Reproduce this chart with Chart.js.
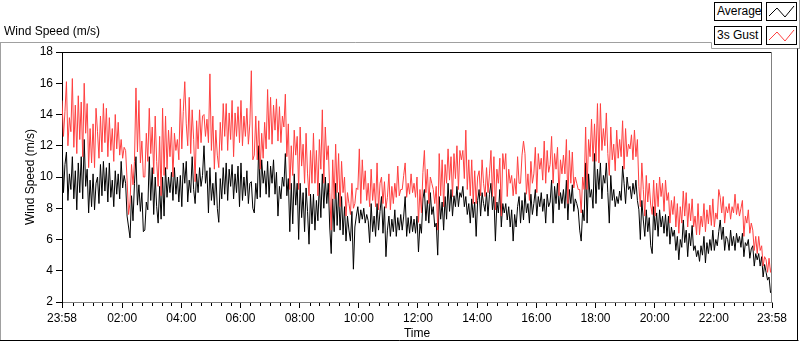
<!DOCTYPE html>
<html><head><meta charset="utf-8">
<script src="https://cdn.jsdelivr.net/npm/chart.js@4/dist/chart.umd.min.js"></script>
<style>
html,body{margin:0;padding:0;background:#fff;}
#wrap{position:relative;width:800px;height:342px;overflow:hidden;font-family:"Liberation Sans",Arial,sans-serif;color:#000;}
#c{position:absolute;left:0;top:0;}
.cap{position:absolute;left:4px;top:24px;font-size:12px;line-height:14px;white-space:nowrap;}
.lg{position:absolute;left:714px;width:48px;height:19px;border:1px solid #000;box-sizing:border-box;background:#fff;font-size:12px;line-height:17px;padding-left:2px;white-space:nowrap;}
.ic{position:absolute;left:766px;width:31px;height:19px;border:1px solid #000;box-sizing:border-box;background:#fff;}
.ic svg{position:absolute;left:0;top:0;}
</style></head>
<body><div id="wrap">
<canvas id="c" width="800" height="342"></canvas>
<div class="cap">Wind Speed (m/s)</div>
<div class="lg" style="top:2px">Average</div>
<div class="ic" style="top:2px"><svg width="29" height="17"><polyline points="2,13 10,5 18,14 27,3" fill="none" stroke="#000" stroke-width="1"/></svg></div>
<div class="lg" style="top:26px">3s Gust</div>
<div class="ic" style="top:26px"><svg width="29" height="17"><polyline points="2,13 10,5 18,14 27,3" fill="none" stroke="#ff4040" stroke-width="1"/></svg></div>
</div>
<script>
// sample spacing (minutes from 23:58)
const stepMinutes = 3;
const seriesNames = ['Average', '3s Gust'];
const xTickMinutes = [0, 122, 242, 362, 482, 602, 722, 842, 962, 1082, 1202, 1322, 1440];
const xTickLabels = ['23:58','02:00','04:00','06:00','08:00','10:00','12:00','14:00','16:00','18:00','20:00','22:00','23:58'];
const yTickValues = [2,4,6,8,10,12,14,16,18];

const gust = [
14.9,12.6,14.2,16.1,12.0,13.8,12.9,16.3,11.9,14.6,
11.5,15.2,12.4,14.8,11.3,16.0,12.8,14.7,10.6,13.1,
10.9,13.4,10.6,14.4,12.9,11.2,13.9,11.6,14.7,12.2,
14.4,11.3,13.8,11.7,13.1,11.0,14.0,11.8,13.5,11.4,
12.4,11.2,11.9,11.7,9.8,7.6,8.4,10.8,9.5,11.0,
15.7,11.6,14.9,10.9,12.3,10.0,10.0,12.8,11.0,14.4,
11.5,13.2,10.2,13.9,11.0,9.4,12.6,8.8,14.4,10.1,
13.9,10.5,13.0,11.3,13.2,10.0,12.8,11.7,12.4,11.1,
15.0,11.8,14.2,16.1,13.4,12.0,15.1,11.5,14.3,12.4,
9.7,13.6,11.8,14.3,12.2,13.9,14.0,12.6,13.7,12.2,
16.6,11.7,13.9,10.5,13.0,11.4,10.6,13.5,11.7,14.7,
12.6,14.7,11.7,14.1,12.4,14.9,11.3,14.1,12.6,14.5,
12.2,14.9,12.0,13.9,12.6,14.4,12.1,13.4,16.8,11.1,
11.4,13.9,11.1,13.6,10.5,12.8,11.2,13.5,11.8,15.6,
12.4,15.1,12.1,14.6,13.0,15.0,12.3,14.5,12.2,13.9,
13.2,15.3,11.3,13.4,9.2,12.0,10.1,13.0,11.4,12.6,
9.2,13.2,10.7,12.1,9.6,12.8,10.2,8.8,11.7,9.6,
12.8,9.6,11.7,8.8,12.4,10.5,14.3,9.6,13.2,11.1,
12.0,9.0,6.6,11.1,8.6,12.1,9.0,11.5,8.1,11.0,
9.0,10.0,7.5,9.0,8.3,7.6,9.6,8.0,8.3,9.3,
9.2,11.8,8.3,11.1,9.2,10.4,8.5,9.6,8.1,10.5,
8.5,9.6,8.1,10.9,7.9,9.6,10.0,8.3,9.7,8.0,
8.7,10.2,7.9,9.4,8.3,9.6,8.7,10.7,8.8,9.2,
9.2,10.1,10.9,8.7,9.6,8.9,10.2,9.0,9.6,8.7,
10.0,7.1,9.2,7.7,10.3,11.7,9.0,10.5,8.3,10.0,
9.6,9.2,8.3,9.4,6.6,11.5,8.8,11.1,8.1,10.8,
9.6,11.8,9.8,11.3,8.75,11.5,9.9,12.0,9.2,11.7,
11.1,11.7,9.9,13.0,9.2,11.1,8.8,11.1,8.3,10.4,
8.3,10.0,10.4,8.8,11.1,9.6,8.75,10.6,9.0,10.2,
11.7,8.75,11.3,7.9,10.5,9.6,11.2,7.5,11.5,10.5,
11.5,8.75,10.5,9.6,10.1,8.8,9.9,8.9,11.3,9.6,
9.6,11.4,12.3,11.5,8.9,10.2,8.5,11.0,9.6,10.2,
11.9,9.0,11.5,10.5,11.2,9.8,12.3,9.6,11.7,10.3,
10.8,12.6,9.6,11.5,10.5,11.9,8.8,11.1,10.2,11.4,
10.2,12.4,8.3,11.7,9.6,11.6,9.3,10.0,9.6,9.2,
9.2,7.7,10.0,9.2,13.2,9.2,12.4,11.3,13.7,11.0,
13.4,11.0,14.7,10.9,14.7,11.7,13.1,12.0,14.1,11.5,
10.1,13.2,11.1,12.1,10.4,13.0,11.2,12.4,11.3,13.6,
10.5,13.1,11.3,12.1,11.8,12.7,11.1,13.0,11.3,12.4,
9.4,8.1,10.9,9.2,7.5,10.1,8.4,9.6,8.2,7.6,
9.8,7.5,9.6,8.1,10.0,8.75,9.6,7.8,9.8,8.5,
9.0,7.05,8.5,7.6,8.75,6.8,8.3,6.4,8.1,7.05,
9.1,7.5,9.0,6.8,8.3,7.2,8.6,6.8,7.5,6.3,
8.3,6.3,7.5,6.8,8.3,6.5,7.9,7.0,8.2,6.9,
8.6,6.8,7.7,7.3,9.2,8.7,7.7,8.75,7.05,8.1,
7.7,8.3,7.3,8.1,7.7,8.9,7.6,8.3,7.5,8.0,
8.5,6.2,7.5,7.05,7.9,6.4,7.05,6.6,5.3,6.2,
5.1,6.2,5.3,5.6,4.3,4.9,4.7,3.9,4.8,3.9,
4.4
];

const average = [
12.4,9.0,10.8,11.6,8.5,10.2,9.2,11.3,8.6,10.4,
7.9,10.9,9.0,11.3,8.6,12.4,9.4,10.5,7.7,9.8,
8.1,10.2,7.9,9.6,10.0,8.3,10.8,8.8,11.0,9.1,
10.6,8.4,10.9,8.7,9.8,8.1,10.4,8.9,10.2,8.6,
11.0,9.3,10.1,9.6,7.5,6.8,6.1,8.8,7.2,9.6,
11.3,8.2,9.5,7.8,9.0,6.5,6.6,8.4,7.9,11.3,
8.5,10.6,7.6,10.0,8.1,7.05,9.4,7.3,10.0,7.5,
10.6,8.7,10.0,9.0,10.3,8.5,10.6,8.9,10.0,8.4,
10.1,8.1,10.9,9.6,11.0,8.4,9.8,9.0,11.3,9.2,
8.3,10.2,9.0,10.6,9.4,10.1,12.0,9.6,10.4,7.7,
10.6,8.5,9.6,8.2,10.3,8.0,7.1,9.9,8.6,10.6,
8.9,10.9,8.5,10.5,9.4,10.8,8.6,10.2,9.0,10.7,
8.1,10.9,8.5,10.0,8.8,10.4,8.3,9.6,9.7,8.0,
7.7,9.6,8.6,12.0,8.7,11.1,9.6,10.4,8.9,11.0,
8.7,10.7,9.6,11.1,8.9,10.3,7.5,9.4,8.6,10.0,
9.4,11.5,8.8,9.9,6.5,9.6,7.0,10.2,8.2,9.6,
6.0,9.6,7.4,9.0,6.5,9.3,7.8,5.7,8.9,7.0,
8.9,6.6,8.5,7.2,9.6,7.4,10.2,8.0,10.0,8.3,
9.6,6.8,5.1,8.6,6.5,9.6,6.9,9.0,6.6,8.75,
6.3,8.1,5.9,7.5,6.6,5.9,7.8,4.1,6.8,7.5,
8.1,7.05,7.9,7.3,8.0,7.05,7.6,7.2,5.8,8.3,
6.5,7.5,6.2,8.3,6.6,7.8,8.75,6.4,8.1,4.9,
6.6,7.5,6.2,7.3,6.5,7.9,6.2,7.4,6.6,7.6,
6.6,7.5,8.75,6.2,7.4,6.4,7.5,6.5,7.3,6.4,
7.5,5.2,7.0,6.4,8.6,9.2,7.2,8.5,7.05,9.0,
7.6,8.1,6.8,7.05,5.0,8.75,7.3,8.4,6.6,8.75,
7.3,9.6,7.8,9.2,7.5,8.8,8.1,9.4,8.1,9.0,
8.7,9.4,8.1,8.75,7.6,8.3,7.05,8.6,7.4,8.4,
6.2,8.5,9.2,7.5,9.0,8.3,7.8,9.0,7.5,8.9,
9.6,7.9,8.75,5.9,8.4,7.7,9.2,6.8,8.3,7.7,
8.3,7.25,8.1,6.8,7.9,5.9,7.6,6.8,8.1,8.75,
7.05,8.5,7.25,9.0,7.7,8.3,7.05,8.9,7.6,8.3,
9.2,7.5,8.75,8.1,9.0,7.8,8.6,7.05,8.9,8.1,
8.4,9.8,7.05,9.4,8.3,9.6,7.9,9.0,8.3,9.2,
8.0,9.8,7.25,9.2,8.3,9.5,7.8,8.6,8.3,7.9,
6.6,5.9,7.9,7.2,10.9,7.05,10.2,8.7,9.2,8.0,
11.5,8.3,10.5,9.2,10.9,8.6,10.1,9.6,10.9,9.0,
7.05,10.1,8.5,9.2,8.1,8.75,8.3,9.1,8.5,10.7,
9.6,8.3,10.0,9.2,9.4,8.6,9.6,8.9,9.8,8.5,
7.9,6.0,8.5,7.25,6.2,7.9,6.5,7.4,5.6,5.1,
8.1,6.6,7.7,6.2,7.9,6.8,7.5,6.4,7.6,6.2,
7.5,5.7,6.8,6.2,6.6,5.3,6.2,4.7,6.0,5.5,
7.25,5.8,6.6,4.9,6.4,5.6,6.9,5.3,5.6,4.9,
5.3,4.6,5.6,5.0,6.2,4.5,5.8,5.1,6.0,5.3,
6.6,5.3,6.0,5.6,6.5,7.25,6.0,6.8,5.3,6.2,
6.0,5.3,6.6,5.6,6.2,5.3,6.4,5.8,6.2,5.5,
6.4,4.9,5.8,5.6,6.0,4.8,5.4,5.6,4.3,5.1,
4.7,5.1,4.3,4.9,3.6,4.4,3.9,3.4,3.6,2.6,
2.8
];

const toXY = arr => arr.map((v, i) => ({x: i * stepMinutes, y: v}));

const framePlugin = {
  id: 'frame',
  beforeDraw(chart) {
    const ctx = chart.ctx;
    ctx.save();
    ctx.fillStyle = '#fff';
    ctx.fillRect(0, 0, chart.width, chart.height);
    ctx.lineWidth = 1;
    const line = (x1, y1, x2, y2, c) => { ctx.strokeStyle = c; ctx.beginPath(); ctx.moveTo(x1, y1); ctx.lineTo(x2, y2); ctx.stroke(); };
    line(0, 42.5, 711.5, 42.5, '#a0a0a0');
    line(711.5, 42.5, 711.5, 48.5, '#a0a0a0');
    line(711.5, 48.5, 800, 48.5, '#a0a0a0');
    line(799.5, 0, 799.5, 48.5, '#a0a0a0');
    line(0.5, 42.5, 0.5, 341, '#a0a0a0');
    line(0, 340.5, 798.5, 340.5, '#000');
    line(797.5, 48.5, 797.5, 341, '#000');
    ctx.restore();
  },
  afterDraw(chart) {
    const ctx = chart.ctx;
    const a = chart.chartArea;
    const xs = chart.scales.x;
    ctx.save();
    ctx.lineWidth = 1;
    ctx.strokeStyle = '#000';
    ctx.beginPath(); ctx.moveTo(a.left, a.top + 0.5); ctx.lineTo(a.right, a.top + 0.5); ctx.stroke();
    ctx.strokeStyle = '#808080';
    ctx.beginPath(); ctx.moveTo(a.right - 0.5, a.top); ctx.lineTo(a.right - 0.5, a.bottom); ctx.stroke();
    // minor ticks every 20 minutes
    ctx.strokeStyle = '#000';
    for (let t = 22; t < 1440; t += 20) {
      if ((t - 2) % 120 === 0) continue;
      const px = Math.round(xs.getPixelForValue(t)) + 0.5;
      ctx.beginPath(); ctx.moveTo(px, a.bottom + 1); ctx.lineTo(px, a.bottom + 4); ctx.stroke();
    }
    ctx.restore();
  }
};

Chart.defaults.font.family = '"Liberation Sans", Arial, sans-serif';
Chart.defaults.font.size = 12;
Chart.defaults.color = '#000';

new Chart(document.getElementById('c'), {
  type: 'line',
  data: {
    datasets: [
      { label: seriesNames[1], data: toXY(gust), borderColor: '#ff4040', borderWidth: 1, pointRadius: 0, tension: 0, order: 0 },
      { label: seriesNames[0], data: toXY(average), borderColor: '#000000', borderWidth: 1, pointRadius: 0, tension: 0, order: 1 }
    ]
  },
  options: {
    responsive: false,
    animation: false,
    events: [],
    layout: { padding: { top: 52, right: 28, left: 0, bottom: 0 } },
    plugins: { legend: { display: false }, tooltip: { enabled: false }, title: { display: false } },
    scales: {
      x: {
        type: 'linear', min: 0, max: 1440,
        afterBuildTicks: s => { s.ticks = xTickMinutes.map(v => ({ value: v })); },
        afterFit: s => { s.height = 40; },
        ticks: { autoSkip: false, maxRotation: 0, padding: 3, callback: (v, i) => xTickLabels[i] },
        grid: { drawOnChartArea: false, drawTicks: true, tickLength: 6, color: '#000' },
        border: { color: '#808080', width: 1 },
        title: { display: true, text: 'Time', padding: { top: 0, bottom: 1 }, font: { size: 12 } }
      },
      y: {
        min: 2, max: 18,
        afterBuildTicks: s => { s.ticks = yTickValues.map(v => ({ value: v })); },
        afterFit: s => { s.width = 62; },
        ticks: { padding: 3 },
        grid: { drawOnChartArea: false, drawTicks: true, tickLength: 6, color: '#000' },
        border: { color: '#000', width: 1 },
        title: { display: true, text: 'Wind Speed (m/s)', padding: { top: 23, bottom: 0 }, font: { size: 12 } }
      }
    }
  },
  plugins: [framePlugin]
});
</script>
</body></html>
